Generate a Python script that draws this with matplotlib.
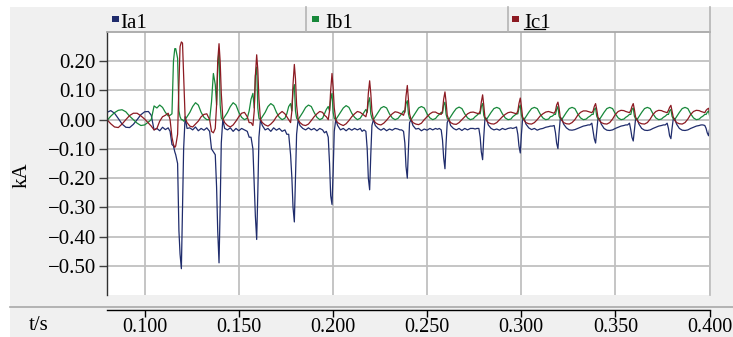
import numpy as np
import matplotlib
matplotlib.use("Agg")
import matplotlib.pyplot as plt
from matplotlib.patches import Rectangle
from matplotlib.lines import Line2D

plt.rcParams['font.family'] = ['Liberation Serif', 'DejaVu Serif']

# ---- data (times in ms, currents in kA) ----
# steady part before the first spike
pre_t = [80, 82, 84, 86, 88, 90, 92, 94, 96, 98, 100, 102, 103.5, 105, 106.5,
         108, 109.5, 111, 112.5, 113.5, 114.5, 115.3, 116.0]
pre_ia = [0.025, 0.031, 0.022, 0.004, -0.015, -0.026, -0.027, -0.016, 0.0, 0.017,
          0.027, 0.028, 0.015, -0.035, -0.030, -0.038, -0.026, -0.034, -0.028,
          -0.040, -0.085, -0.090, -0.110]
pre_ib = [-0.003, 0.012, 0.024, 0.032, 0.034, 0.027, 0.012, 0.0, -0.012, -0.020,
          -0.018, -0.008, 0.0, 0.047, 0.040, 0.050, 0.042, 0.025, 0.013, 0.015,
          0.020, 0.200, 0.243]
pre_ic = [0.0, -0.014, -0.025, -0.027, -0.015, 0.0, 0.014, 0.022, 0.022, 0.013,
          0.002, -0.012, -0.022, -0.035, -0.030, -0.005, 0.010, 0.015, 0.022, 0.0,
          -0.060, -0.085, -0.095]

# spike instants and the sample offsets (ms) read around each one
spike_t = [119.5, 139.5, 159.5, 179.5, 199.5, 219.5, 239.5, 259.5, 279.5,
           299.5, 319.5, 339.5, 359.5, 379.5, 399.5]
offs = [-3.0, -2.0, -1.3, -0.7, 0.0, 0.6, 1.2, 2.0, 3.0, 4.5, 6.0, 7.5, 9.0,
        10.5, 12.0, 13.5, 15.0, 16.0]

ia_rows = [
    [-0.12, -0.15, -0.38, -0.46, -0.51, -0.30, -0.10, 0.01, -0.03, -0.028, -0.035, -0.025, -0.038, -0.030, -0.036, -0.028, -0.040, -0.100],
    [-0.11, -0.12, -0.23, -0.38, -0.49, -0.30, -0.08, 0.00, -0.03, -0.035, -0.028, -0.040, -0.030, -0.038, -0.030, -0.035, -0.040, -0.060],
    [-0.06, -0.10, -0.22, -0.33, -0.41, -0.25, -0.06, 0.00, -0.02, -0.035, -0.030, -0.040, -0.028, -0.036, -0.030, -0.040, -0.035, -0.050],
    [-0.05, -0.12, -0.20, -0.30, -0.35, -0.20, -0.05, 0.00, -0.02, -0.030, -0.035, -0.028, -0.035, -0.030, -0.038, -0.030, -0.035, -0.045],
    [-0.04, -0.06, -0.15, -0.26, -0.29, -0.18, -0.04, 0.00, -0.02, -0.035, -0.030, -0.038, -0.030, -0.036, -0.030, -0.035, -0.030, -0.040],
    [-0.035, -0.04, -0.10, -0.20, -0.24, -0.12, -0.02, 0.00, -0.02, -0.030, -0.036, -0.030, -0.038, -0.032, -0.036, -0.030, -0.032, -0.035],
    [-0.035, -0.04, -0.08, -0.16, -0.20, -0.10, -0.01, 0.00, -0.02, -0.032, -0.030, -0.038, -0.032, -0.036, -0.030, -0.035, -0.030, -0.033],
    [-0.03, -0.035, -0.07, -0.13, -0.168, -0.08, -0.01, 0.002, -0.02, -0.030, -0.035, -0.030, -0.037, -0.030, -0.035, -0.030, -0.030, -0.032],
    [-0.03, -0.03, -0.06, -0.11, -0.137, -0.06, 0.00, 0.005, -0.018, -0.030, -0.035, -0.032, -0.036, -0.030, -0.034, -0.030, -0.028, -0.030],
    [-0.028, -0.025, -0.05, -0.09, -0.114, -0.05, 0.00, 0.005, -0.015, -0.028, -0.034, -0.030, -0.036, -0.032, -0.030, -0.026, -0.024, -0.022],
    [-0.022, -0.02, -0.045, -0.08, -0.099, -0.045, 0.00, 0.005, -0.015, -0.028, -0.035, -0.036, -0.034, -0.030, -0.026, -0.022, -0.020, -0.018],
    [-0.018, -0.012, -0.04, -0.065, -0.080, -0.040, 0.00, 0.004, -0.015, -0.030, -0.036, -0.037, -0.035, -0.030, -0.026, -0.022, -0.020, -0.018],
    [-0.018, -0.012, -0.035, -0.06, -0.073, -0.035, 0.00, 0.004, -0.015, -0.030, -0.036, -0.037, -0.035, -0.030, -0.026, -0.022, -0.020, -0.018],
    [-0.018, -0.012, -0.03, -0.055, -0.065, -0.030, 0.00, 0.004, -0.015, -0.030, -0.036, -0.037, -0.035, -0.030, -0.026, -0.022, -0.020, -0.018],
    [-0.018, -0.020, -0.03, -0.045, -0.055, -0.030, 0.00, 0.004, -0.015, -0.030, -0.036, -0.037, -0.035, -0.030, -0.026, -0.022, -0.020, -0.018],
]
ib_rows = [
    [0.243, 0.21, 0.03, 0.01, 0.00, 0.00, -0.005, 0.00, 0.010, 0.025, 0.045, 0.058, 0.050, 0.025, 0.008, 0.000, 0.000, 0.060],
    [0.158, 0.12, 0.05, 0.18, 0.24, 0.05, 0.005, 0.00, 0.010, 0.025, 0.045, 0.058, 0.050, 0.025, 0.008, 0.000, 0.005, 0.030],
    [0.070, 0.09, 0.04, 0.15, 0.18, 0.04, 0.005, 0.00, 0.010, 0.025, 0.045, 0.055, 0.048, 0.025, 0.008, 0.000, 0.005, 0.020],
    [0.045, 0.055, 0.03, 0.10, 0.12, 0.03, 0.005, 0.00, 0.010, 0.025, 0.042, 0.050, 0.045, 0.025, 0.008, 0.000, 0.005, 0.020],
    [0.035, 0.045, 0.03, 0.07, 0.09, 0.025, 0.005, 0.00, 0.010, 0.025, 0.040, 0.048, 0.042, 0.022, 0.008, 0.000, 0.005, 0.015],
    [0.025, 0.035, 0.025, 0.06, 0.075, 0.02, 0.005, 0.00, 0.010, 0.025, 0.040, 0.045, 0.040, 0.020, 0.006, 0.000, 0.004, 0.012],
    [0.020, 0.030, 0.025, 0.055, 0.065, 0.02, 0.004, 0.00, 0.010, 0.025, 0.040, 0.045, 0.040, 0.020, 0.006, 0.000, 0.004, 0.012],
    [0.018, 0.025, 0.022, 0.05, 0.060, 0.018, 0.004, 0.00, 0.010, 0.025, 0.038, 0.043, 0.038, 0.020, 0.006, 0.000, 0.003, 0.010],
    [0.015, 0.022, 0.020, 0.045, 0.055, 0.015, 0.003, 0.00, 0.010, 0.025, 0.038, 0.042, 0.038, 0.020, 0.006, 0.000, 0.002, 0.010],
    [0.015, 0.020, 0.020, 0.040, 0.050, 0.015, 0.003, 0.00, 0.010, 0.025, 0.038, 0.042, 0.038, 0.020, 0.006, 0.000, 0.002, 0.010],
    [0.012, 0.018, 0.018, 0.035, 0.045, 0.012, 0.003, 0.00, 0.010, 0.025, 0.038, 0.042, 0.038, 0.020, 0.006, 0.000, 0.002, 0.008],
    [0.012, 0.018, 0.018, 0.035, 0.040, 0.012, 0.003, 0.00, 0.010, 0.025, 0.038, 0.042, 0.038, 0.020, 0.006, 0.000, 0.002, 0.008],
    [0.012, 0.018, 0.018, 0.035, 0.040, 0.012, 0.003, 0.00, 0.010, 0.025, 0.038, 0.042, 0.038, 0.020, 0.006, 0.000, 0.002, 0.008],
    [0.012, 0.018, 0.018, 0.030, 0.035, 0.012, 0.003, 0.00, 0.010, 0.025, 0.038, 0.042, 0.038, 0.020, 0.006, 0.000, 0.002, 0.008],
    [0.012, 0.018, 0.018, 0.025, 0.030, 0.012, 0.003, 0.00, 0.010, 0.025, 0.038, 0.042, 0.038, 0.020, 0.006, 0.000, 0.002, 0.008],
]
ic_rows = [
    [-0.09, -0.05, 0.12, 0.25, 0.266, 0.262, 0.15, 0.005, -0.01, -0.022, -0.025, -0.015, -0.005, 0.010, 0.018, 0.020, 0.000, -0.040],
    [-0.045, -0.03, 0.05, 0.20, 0.260, 0.20, 0.09, 0.005, -0.01, -0.020, -0.025, -0.018, -0.005, 0.010, 0.022, 0.025, 0.010, -0.010],
    [-0.01, -0.02, 0.03, 0.15, 0.222, 0.17, 0.07, 0.000, -0.01, -0.018, -0.022, -0.015, -0.005, 0.010, 0.020, 0.028, 0.020, 0.010],
    [0.000, -0.01, 0.03, 0.12, 0.189, 0.14, 0.05, 0.000, -0.01, -0.018, -0.020, -0.015, -0.003, 0.010, 0.020, 0.028, 0.025, 0.015],
    [0.010, 0.000, 0.03, 0.10, 0.158, 0.11, 0.04, 0.000, -0.01, -0.016, -0.020, -0.014, -0.003, 0.010, 0.020, 0.028, 0.025, 0.020],
    [0.015, 0.010, 0.03, 0.09, 0.133, 0.09, 0.03, 0.000, -0.01, -0.016, -0.018, -0.012, -0.002, 0.010, 0.020, 0.027, 0.025, 0.022],
    [0.020, 0.015, 0.03, 0.08, 0.117, 0.07, 0.02, 0.000, -0.01, -0.015, -0.017, -0.012, 0.000, 0.010, 0.020, 0.026, 0.026, 0.022],
    [0.020, 0.018, 0.03, 0.07, 0.095, 0.06, 0.015, 0.000, -0.01, -0.015, -0.016, -0.010, 0.000, 0.010, 0.020, 0.025, 0.026, 0.024],
    [0.022, 0.020, 0.03, 0.06, 0.085, 0.05, 0.01, -0.002, -0.01, -0.014, -0.015, -0.010, 0.000, 0.010, 0.018, 0.024, 0.026, 0.024],
    [0.022, 0.020, 0.03, 0.055, 0.074, 0.045, 0.01, -0.002, -0.01, -0.014, -0.015, -0.010, 0.000, 0.012, 0.020, 0.026, 0.028, 0.026],
    [0.024, 0.022, 0.03, 0.05, 0.060, 0.04, 0.01, -0.002, -0.01, -0.014, -0.015, -0.010, 0.000, 0.015, 0.025, 0.030, 0.030, 0.028],
    [0.026, 0.024, 0.03, 0.045, 0.055, 0.035, 0.01, -0.002, -0.01, -0.014, -0.015, -0.010, 0.002, 0.018, 0.028, 0.032, 0.031, 0.028],
    [0.026, 0.024, 0.032, 0.045, 0.055, 0.035, 0.01, -0.002, -0.01, -0.014, -0.015, -0.010, 0.002, 0.018, 0.028, 0.032, 0.031, 0.028],
    [0.026, 0.024, 0.032, 0.042, 0.049, 0.03, 0.01, -0.002, -0.01, -0.014, -0.015, -0.010, 0.002, 0.018, 0.028, 0.032, 0.031, 0.028],
    [0.026, 0.024, 0.032, 0.036, 0.039, 0.025, 0.01, 0.000, -0.01, -0.014, -0.015, -0.010, 0.002, 0.018, 0.028, 0.032, 0.031, 0.028],
]

xticks = [0.10, 0.15, 0.20, 0.25, 0.30, 0.35, 0.40]
xtick_labels = ["0.100", "0.150", "0.200", "0.250", "0.300", "0.350", "0.400"]
yticks = [-0.5, -0.4, -0.3, -0.2, -0.1, 0.0, 0.1, 0.2]
ytick_labels = ["\u22120.50", "\u22120.40", "\u22120.30", "\u22120.20", "\u22120.10",
                "0.00", "0.10", "0.20"]

names = ["Ia1", "Ib1", "Ic1"]
colors = ["#1f2c6c", "#17883a", "#8c1a22"]

# build the polylines
t_all = np.concatenate([pre_t] + [np.array(offs) + s for s in spike_t]) / 1000.0
ia = np.concatenate([pre_ia] + ia_rows)
ib = np.concatenate([pre_ib] + ib_rows)
ic = np.concatenate([pre_ic] + ic_rows)

# ---- figure ----
W, H = 733, 337
fig = plt.figure(figsize=(W / 100, H / 100), dpi=100)
fig.patch.set_facecolor('#f0f0f0')


def fx(x):
    return x / W


def fy(y):
    return 1 - y / H


# white margin at top and left
fig.add_artist(Rectangle((0, fy(7)), 1, 7 / H, transform=fig.transFigure,
                         facecolor='white', edgecolor='none'))
fig.add_artist(Rectangle((0, 0), fx(10), 1, transform=fig.transFigure,
                         facecolor='white', edgecolor='none'))

ax = fig.add_axes([fx(107), fy(295), (709.5 - 107) / W, (295 - 32) / H])
ax.set_facecolor('white')
for vals, c in zip([ia, ib, ic], colors):
    ax.plot(t_all, vals, color=c, lw=0.9)
ax.set_xlim(0.08, 0.40)
ax.set_ylim(-0.60, 0.30)
ax.set_xticks(xticks)
ax.tick_params(axis='x', length=0, labelbottom=False)
ax.set_yticks(yticks)
ax.set_yticklabels(ytick_labels, fontsize=15)
ax.tick_params(axis='y', length=6, width=1, pad=2, color='#404040')
ax.grid(True, color='#c0c0c0', lw=1.3)
ax.set_axisbelow(True)
ax.spines['left'].set_color('#303030')
ax.spines['left'].set_linewidth(1.0)
ax.spines['top'].set_color('#a8a8a8')
ax.spines['top'].set_linewidth(1.3)
ax.spines['right'].set_color('#c0c0c0')
ax.spines['right'].set_linewidth(1.3)
ax.spines['bottom'].set_visible(False)

# separate time axis under the plot
ax2 = fig.add_axes([fx(107), fy(310), (709.5 - 107) / W, 1e-4])
ax2.set_xlim(0.08, 0.40)
ax2.patch.set_visible(False)
for s in ['top', 'left', 'right']:
    ax2.spines[s].set_visible(False)
ax2.spines['bottom'].set_color('black')
ax2.spines['bottom'].set_linewidth(1.0)
ax2.set_yticks([])
ax2.set_xticks(xticks)
ax2.set_xticklabels(xtick_labels, fontsize=14.5)
ax2.tick_params(axis='x', length=5, width=1, pad=0.5, direction='out')

# divider above the time axis
fig.add_artist(Line2D([fx(10), 1], [fy(306.5), fy(306.5)], transform=fig.transFigure,
                      color='#a8a8a8', lw=1.2))

fig.text(fx(39), fy(326), 't/s', ha='center', va='center', fontsize=15)
fig.text(fx(22), fy(175), 'kA', ha='center', va='center', rotation=90, fontsize=15)

# legend strip
for xs in [306, 508, 709.5]:
    fig.add_artist(Line2D([fx(xs), fx(xs)], [fy(7), fy(32)], transform=fig.transFigure,
                          color='#b4b4b4', lw=1.2))
marker_x = [111.5, 311.5, 511.5]
text_x = [120, 325, 524]
for mx, tx, name, c in zip(marker_x, text_x, names, colors):
    fig.add_artist(Rectangle((fx(mx), fy(21.5)), 7 / W, 6 / H, transform=fig.transFigure,
                             facecolor=c, edgecolor='none'))
    fig.text(fx(tx), fy(27.5), name, ha='left', va='baseline', fontsize=15)
fig.add_artist(Line2D([fx(524), fx(545)], [fy(28.5), fy(28.5)], transform=fig.transFigure,
                      color='black', lw=0.9))

fig.savefig('out.png', dpi=100, facecolor=fig.get_facecolor())
